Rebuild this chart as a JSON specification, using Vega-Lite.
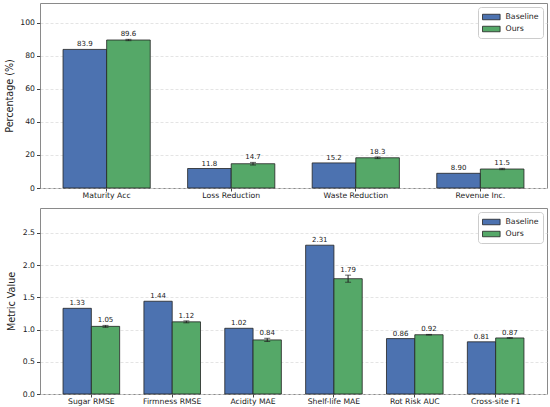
{
  "$schema": "https://vega.github.io/schema/vega-lite/v6.json",
  "padding": {"left": 3, "top": 2, "right": 4, "bottom": 0},
  "background": "white",
  "config": {
    "font": "DejaVu Sans",
    "view": {"stroke": "#8a8a8a", "strokeWidth": 1},
    "axis": {"labelFont": "DejaVu Sans", "titleFont": "DejaVu Sans", "labelColor": "#222", "titleColor": "#222", "domain": false, "tickColor": "#444", "tickSize": 3.5, "labelFontSize": 7.7, "titleFontSize": 9.6, "titleFontWeight": "normal", "labelPadding": 2},
    "axisX": {"labelPadding": 0.5, "tickSize": 3},
    "legend": {"labelFont": "DejaVu Sans", "labelFontSize": 7.8, "labelColor": "#222", "orient": "top-right", "offset": 4, "padding": 4, "strokeColor": "#cccccc", "fillColor": "white", "cornerRadius": 3, "symbolType": "M-1,-0.5H2.2V0.5H-1Z", "symbolSize": 121, "symbolStrokeColor": "#222", "symbolStrokeWidth": 0.8, "rowPadding": 1, "labelOffset": 11.5, "title": null}
  },
  "datasets": {
    "top": [
      {"metric": "Maturity Acc", "series": "Baseline", "value": 83.9},
      {"metric": "Maturity Acc", "series": "Ours", "value": 89.6, "lo": 89.2, "hi": 90.0},
      {"metric": "Loss Reduction", "series": "Baseline", "value": 11.8},
      {"metric": "Loss Reduction", "series": "Ours", "value": 14.7, "lo": 13.9, "hi": 15.5},
      {"metric": "Waste Reduction", "series": "Baseline", "value": 15.2},
      {"metric": "Waste Reduction", "series": "Ours", "value": 18.3, "lo": 17.8, "hi": 18.8},
      {"metric": "Revenue Inc.", "series": "Baseline", "value": 8.9},
      {"metric": "Revenue Inc.", "series": "Ours", "value": 11.5, "lo": 11.1, "hi": 11.9}
    ],
    "bottom": [
      {"metric": "Sugar RMSE", "series": "Baseline", "value": 1.33},
      {"metric": "Sugar RMSE", "series": "Ours", "value": 1.05, "lo": 1.035, "hi": 1.065},
      {"metric": "Firmness RMSE", "series": "Baseline", "value": 1.44},
      {"metric": "Firmness RMSE", "series": "Ours", "value": 1.12, "lo": 1.105, "hi": 1.135},
      {"metric": "Acidity MAE", "series": "Baseline", "value": 1.02},
      {"metric": "Acidity MAE", "series": "Ours", "value": 0.84, "lo": 0.815, "hi": 0.865},
      {"metric": "Shelf-life MAE", "series": "Baseline", "value": 2.31},
      {"metric": "Shelf-life MAE", "series": "Ours", "value": 1.79, "lo": 1.735, "hi": 1.845},
      {"metric": "Rot Risk AUC", "series": "Baseline", "value": 0.86},
      {"metric": "Rot Risk AUC", "series": "Ours", "value": 0.92, "lo": 0.915, "hi": 0.925},
      {"metric": "Cross-site F1", "series": "Baseline", "value": 0.81},
      {"metric": "Cross-site F1", "series": "Ours", "value": 0.87, "lo": 0.865, "hi": 0.875}
    ]
  },
  "spacing": 20,
  "bounds": "flush",
  "resolve": {"scale": {"color": "independent", "xOffset": "independent", "x": "independent", "y": "independent"}},
  "vconcat": [
    {
      "width": 507,
      "height": 185,
      "data": {"name": "top"},
      "encoding": {
        "x": {"field": "metric", "type": "nominal", "sort": null, "title": null, "scale": {"paddingInner": 0.3, "paddingOuter": 0.185}, "axis": {"labelAngle": 0, "grid": false}},
        "xOffset": {"field": "series", "type": "nominal", "scale": {"domain": ["Baseline", "Ours"], "paddingInner": 0, "paddingOuter": 0}}
      },
      "layer": [
        {
          "mark": {"type": "bar", "stroke": "#222", "strokeWidth": 0.8},
          "encoding": {
            "y": {"field": "value", "type": "quantitative", "title": "Percentage (%)", "scale": {"domain": [0, 112], "nice": false}, "axis": {"values": [0, 20, 40, 60, 80, 100], "tickCount": 20, "grid": true, "gridDash": [3, 2], "gridColor": "#dddddd", "gridWidth": 0.8, "titlePadding": 5.5}},
            "color": {"field": "series", "type": "nominal", "scale": {"domain": ["Baseline", "Ours"], "range": ["#4C72B0", "#55A868"]}}
          }
        },
        {
          "transform": [{"filter": "datum.series == 'Ours'"}],
          "mark": {"type": "rule", "color": "#222", "strokeWidth": 1},
          "encoding": {"y": {"field": "lo", "type": "quantitative"}, "y2": {"field": "hi"}}
        },
        {
          "transform": [{"filter": "datum.series == 'Ours'"}],
          "mark": {"type": "tick", "color": "#222", "size": 6, "thickness": 1},
          "encoding": {"y": {"field": "lo", "type": "quantitative"}}
        },
        {
          "transform": [{"filter": "datum.series == 'Ours'"}],
          "mark": {"type": "tick", "color": "#222", "size": 6, "thickness": 1},
          "encoding": {"y": {"field": "hi", "type": "quantitative"}}
        },
        {
          "transform": [{"filter": "datum.series == 'Baseline'"}],
          "mark": {"type": "text", "baseline": "alphabetic", "dy": -3, "fontSize": 7, "color": "#222"},
          "encoding": {
            "y": {"field": "value", "type": "quantitative"},
            "text": {"field": "value", "type": "quantitative", "format": ".3g"}
          }
        },
        {
          "transform": [{"filter": "datum.series == 'Ours'"}],
          "mark": {"type": "text", "baseline": "alphabetic", "dy": -3, "fontSize": 7, "color": "#222"},
          "encoding": {
            "y": {"field": "hi", "type": "quantitative"},
            "text": {"field": "value", "type": "quantitative", "format": ".3g"}
          }
        }
      ]
    },
    {
      "width": 507,
      "height": 186,
      "data": {"name": "bottom"},
      "encoding": {
        "x": {"field": "metric", "type": "nominal", "sort": null, "title": null, "scale": {"paddingInner": 0.3, "paddingOuter": 0.285}, "axis": {"labelAngle": 0, "grid": false}},
        "xOffset": {"field": "series", "type": "nominal", "scale": {"domain": ["Baseline", "Ours"], "paddingInner": 0, "paddingOuter": 0}}
      },
      "layer": [
        {
          "mark": {"type": "bar", "stroke": "#222", "strokeWidth": 0.8},
          "encoding": {
            "y": {"field": "value", "type": "quantitative", "title": "Metric Value", "scale": {"domain": [0, 2.8875], "nice": false}, "axis": {"values": [0, 0.5, 1, 1.5, 2, 2.5], "tickCount": 20, "format": ".1f", "grid": true, "gridDash": [3, 2], "gridColor": "#dddddd", "gridWidth": 0.8, "titlePadding": 5.5}},
            "color": {"field": "series", "type": "nominal", "scale": {"domain": ["Baseline", "Ours"], "range": ["#4C72B0", "#55A868"]}}
          }
        },
        {
          "transform": [{"filter": "datum.series == 'Ours'"}],
          "mark": {"type": "rule", "color": "#222", "strokeWidth": 1},
          "encoding": {"y": {"field": "lo", "type": "quantitative"}, "y2": {"field": "hi"}}
        },
        {
          "transform": [{"filter": "datum.series == 'Ours'"}],
          "mark": {"type": "tick", "color": "#222", "size": 6, "thickness": 1},
          "encoding": {"y": {"field": "lo", "type": "quantitative"}}
        },
        {
          "transform": [{"filter": "datum.series == 'Ours'"}],
          "mark": {"type": "tick", "color": "#222", "size": 6, "thickness": 1},
          "encoding": {"y": {"field": "hi", "type": "quantitative"}}
        },
        {
          "transform": [{"filter": "datum.series == 'Baseline'"}],
          "mark": {"type": "text", "baseline": "alphabetic", "dy": -3, "fontSize": 7, "color": "#222"},
          "encoding": {
            "y": {"field": "value", "type": "quantitative"},
            "text": {"field": "value", "type": "quantitative", "format": ".2f"}
          }
        },
        {
          "transform": [{"filter": "datum.series == 'Ours'"}],
          "mark": {"type": "text", "baseline": "alphabetic", "dy": -3, "fontSize": 7, "color": "#222"},
          "encoding": {
            "y": {"field": "hi", "type": "quantitative"},
            "text": {"field": "value", "type": "quantitative", "format": ".2f"}
          }
        }
      ]
    }
  ]
}
